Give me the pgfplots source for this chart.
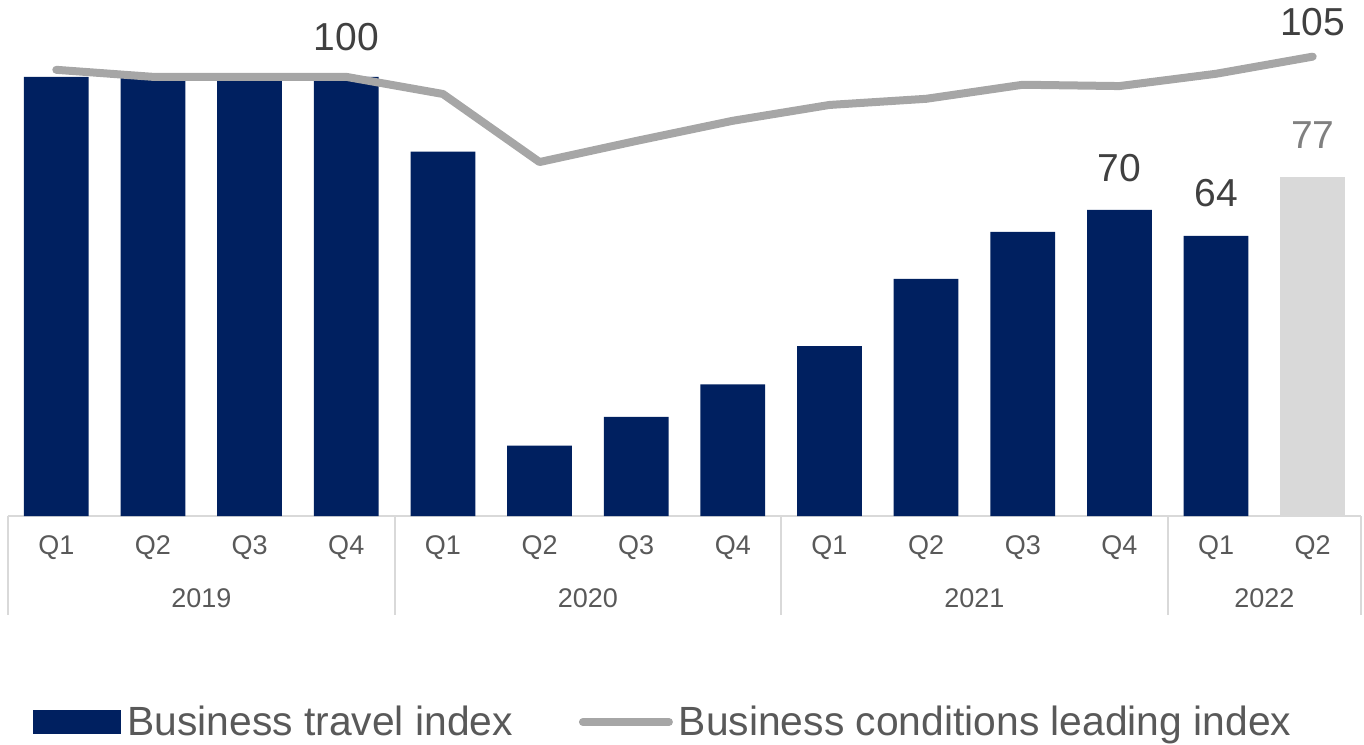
\documentclass[border=0pt]{standalone}
\usepackage{pgfplots}
\pgfplotsset{compat=1.18}
\usepackage{fontspec}
\setmainfont{Liberation Sans}
\definecolor{navy}{HTML}{002060}
\definecolor{lightbar}{HTML}{D9D9D9}
\definecolor{linegray}{HTML}{A6A6A6}
\definecolor{ticktext}{HTML}{595959}
\definecolor{labtext}{HTML}{404040}
\definecolor{sepgray}{HTML}{D9D9D9}

\begin{document}
\begin{tikzpicture}
\begin{axis}[
    name=ax,
    scale only axis,
    width=676.5pt, height=258pt,
    xmin=-0.5, xmax=13.5,
    ymin=0, ymax=117.5,
    hide y axis,
    axis x line*=bottom,
    x axis line style={draw=sepgray, line width=1pt, -},
    xtick={0,...,13},
    xticklabels={Q1,Q2,Q3,Q4,Q1,Q2,Q3,Q4,Q1,Q2,Q3,Q4,Q1,Q2},
    major tick length=0pt,
    x tick label style={anchor=center, yshift=-16pt, text=ticktext, font=\fontsize{13.5}{15}\selectfont},
    clip=false,
    legend columns=2,
    legend style={at={(0,0)}, anchor=west, xshift=12.5pt, yshift=-103pt,
        draw=none, fill=none, inner sep=0pt,
        font=\fontsize{20.4}{22}\selectfont, text=ticktext,
        nodes={inner sep=3pt},
        /tikz/every even column/.append style={column sep=30pt}},
  ]
  % business travel index
  \addplot[ybar, bar width=0.67, bar shift=0pt, fill=navy, draw=none,
      legend image code/.code={\fill[navy] (0pt,-6pt) rectangle (44pt,6pt);}]
    coordinates {(0,100) (1,100) (2,100) (3,100) (4,83) (5,16) (6,22.6) (7,30)
                 (8,38.7) (9,54) (10,64.7) (11,69.7) (12,63.8)};
  \addlegendentry{Business travel index}
  \addplot[ybar, bar width=0.67, bar shift=0pt, fill=lightbar, draw=none, forget plot]
    coordinates {(13,77.2)};
  % business conditions leading index
  \addplot[linegray, line width=4pt, line cap=round, line join=round, mark=none,
      legend image code/.code={\draw[linegray, line width=4pt, line cap=round] (2pt,0) -- (45pt,0);}]
    coordinates {(0,101.6) (1,100) (2,100) (3,100) (4,96.1) (5,80.6) (6,85.4) (7,90)
                 (8,93.6) (9,95) (10,98.2) (11,97.9) (12,100.7) (13,104.6)};
  \addlegendentry{Business conditions leading index}

  % year separators and labels
  \pgfplotsinvokeforeach{-0.5,3.5,7.5,11.5,13.5}{
    \draw[sepgray, line width=1pt] (axis cs:#1,0) -- ([yshift=-49.5pt]axis cs:#1,0);
  }
  \node[text=ticktext, font=\fontsize{13.5}{15}\selectfont, yshift=-41pt] at (axis cs:1.5,0) {2019};
  \node[text=ticktext, font=\fontsize{13.5}{15}\selectfont, yshift=-41pt] at (axis cs:5.5,0) {2020};
  \node[text=ticktext, font=\fontsize{13.5}{15}\selectfont, yshift=-41pt] at (axis cs:9.5,0) {2021};
  \node[text=ticktext, font=\fontsize{13.5}{15}\selectfont, yshift=-41pt] at (axis cs:12.5,0) {2022};

  % data labels
  \node[text=labtext, font=\fontsize{19.5}{21}\selectfont, yshift=20pt] at (axis cs:3,100) {100};
  \node[text=labtext, font=\fontsize{19.5}{21}\selectfont, yshift=17.5pt] at (axis cs:13,104.6) {105};
  \node[text=labtext, font=\fontsize{19.5}{21}\selectfont, yshift=21pt] at (axis cs:11,69.7) {70};
  \node[text=labtext, font=\fontsize{19.5}{21}\selectfont, yshift=21.5pt] at (axis cs:12,63.8) {64};
  \node[text=gray, font=\fontsize{19.5}{21}\selectfont, yshift=21pt] at (axis cs:13,77.2) {77};
\end{axis}
\pgfresetboundingbox
\path ([xshift=-4pt]ax.south west) ++(0,-114pt) rectangle ([xshift=1.5pt]ax.north east);
\end{tikzpicture}
\end{document}
